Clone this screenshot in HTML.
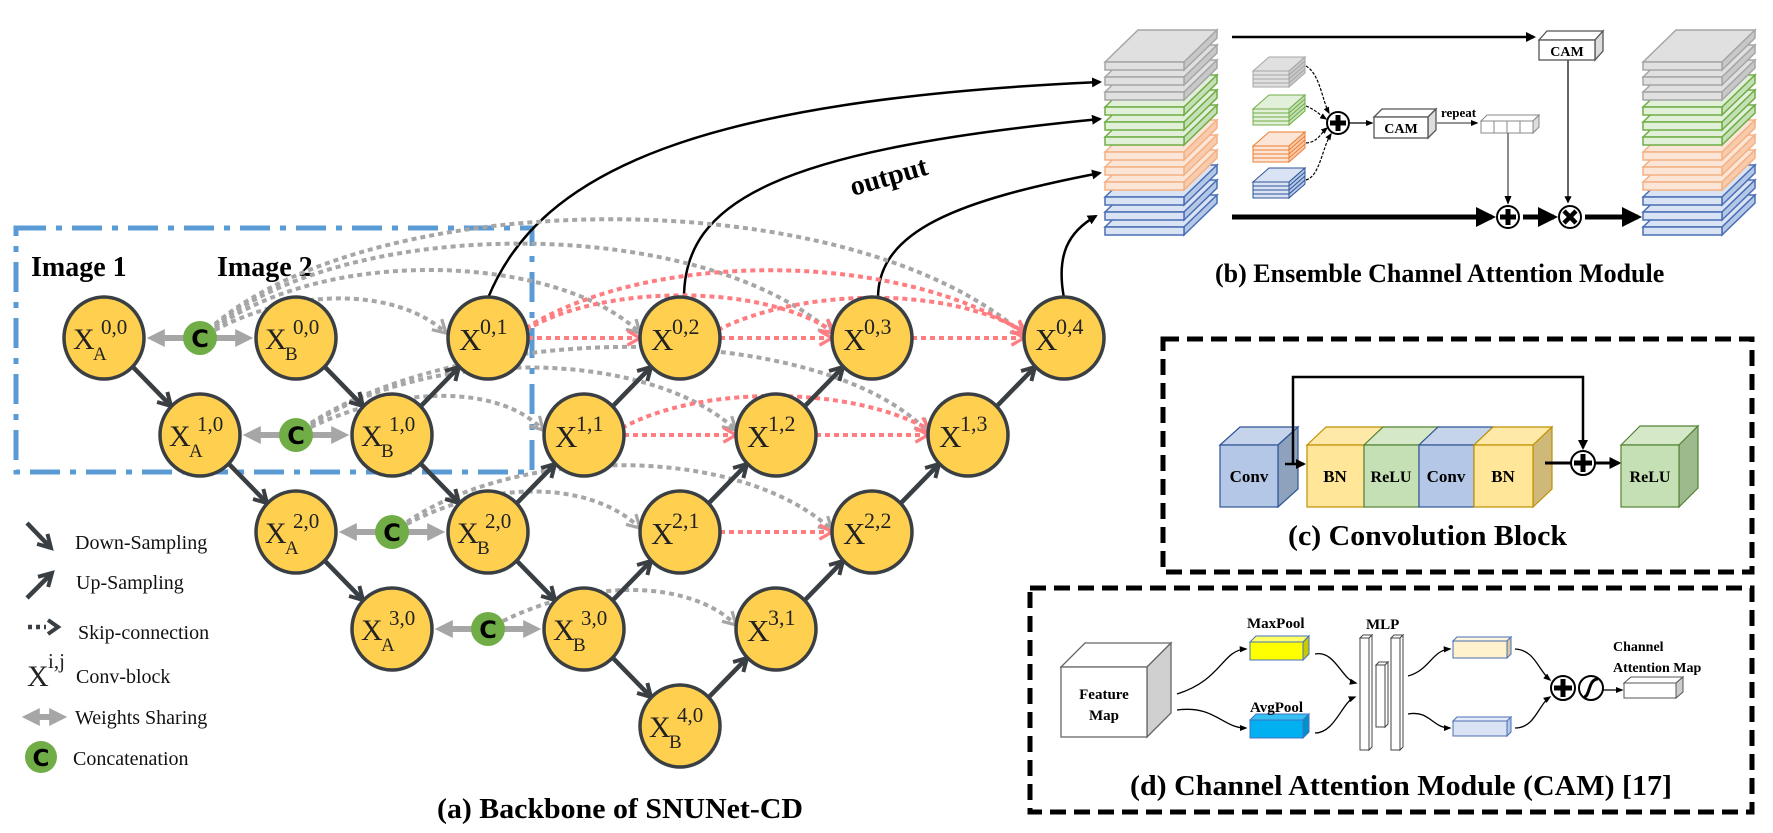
<!DOCTYPE html>
<html><head><meta charset="utf-8"><style>
html,body{margin:0;padding:0;background:#fff;}
svg{display:block;}
.nx{font-family:"Liberation Serif",serif;fill:#222;}
.bd{font-family:"Liberation Serif",serif;font-weight:bold;fill:#000;}
.lg{font-family:"Liberation Serif",serif;font-size:20px;fill:#111;}
</style></head><body>
<svg width="1773" height="833" viewBox="0 0 1773 833" xmlns="http://www.w3.org/2000/svg">
<defs>
<marker id="dk" viewBox="0 0 10 10" refX="8" refY="5" markerWidth="4" markerHeight="4" orient="auto"><path d="M1,1 L8,5 L1,9" fill="none" stroke="#3a3f44" stroke-width="2.2"/></marker>
<marker id="gy" viewBox="0 0 10 10" refX="8" refY="5" markerWidth="4.5" markerHeight="4.5" orient="auto"><path d="M1,1 L8,5 L1,9" fill="none" stroke="#a6a6a6" stroke-width="1.8"/></marker>
<marker id="rd" viewBox="0 0 10 10" refX="8" refY="5" markerWidth="4.5" markerHeight="4.5" orient="auto"><path d="M1,1 L8,5 L1,9" fill="none" stroke="#ff7c80" stroke-width="1.8"/></marker>
<marker id="gt" viewBox="0 0 10 10" refX="6" refY="5" markerWidth="3" markerHeight="3" orient="auto"><path d="M0,0 L10,5 L0,10 z" fill="#a6a6a6"/></marker>
<marker id="bt" viewBox="0 0 10 10" refX="8" refY="5" markerWidth="4" markerHeight="4" orient="auto"><path d="M0,0 L10,5 L0,10 z" fill="#000"/></marker>
<marker id="bs" viewBox="0 0 10 10" refX="8" refY="5" markerWidth="6" markerHeight="6" orient="auto"><path d="M0,1 L10,5 L0,9 z" fill="#000"/></marker>
<g id="Lg"><polygon points="0,0 33,-32 112,-32 79,0" fill="#e0e0e0" stroke="#a6a6a6" stroke-width="1.5"/><polygon points="79,0 112,-32 112,-24 79,8" fill="#c8c8c8" stroke="#a6a6a6" stroke-width="1.5"/><rect x="0" y="0" width="79" height="8" fill="#e0e0e0" stroke="#a6a6a6" stroke-width="1.5"/></g>
<g id="Lgr"><polygon points="0,0 33,-32 112,-32 79,0" fill="#e2f0d9" stroke="#70ad47" stroke-width="1.5"/><polygon points="79,0 112,-32 112,-24 79,8" fill="#c5e0b4" stroke="#70ad47" stroke-width="1.5"/><rect x="0" y="0" width="79" height="8" fill="#e2f0d9" stroke="#70ad47" stroke-width="1.5"/></g>
<g id="Lo"><polygon points="0,0 33,-32 112,-32 79,0" fill="#fbe5d6" stroke="#f4b183" stroke-width="1.5"/><polygon points="79,0 112,-32 112,-24 79,8" fill="#f8cbad" stroke="#f4b183" stroke-width="1.5"/><rect x="0" y="0" width="79" height="8" fill="#fbe5d6" stroke="#f4b183" stroke-width="1.5"/></g>
<g id="Lb"><polygon points="0,0 33,-32 112,-32 79,0" fill="#dae3f3" stroke="#4a6fb5" stroke-width="1.5"/><polygon points="79,0 112,-32 112,-24 79,8" fill="#b4c7e7" stroke="#4a6fb5" stroke-width="1.5"/><rect x="0" y="0" width="79" height="8" fill="#dae3f3" stroke="#4a6fb5" stroke-width="1.5"/></g>
<g id="stk">
<use href="#Lb" x="0" y="165"/><use href="#Lb" x="0" y="150"/><use href="#Lb" x="0" y="135"/>
<use href="#Lo" x="0" y="120"/><use href="#Lo" x="0" y="105"/><use href="#Lo" x="0" y="90"/>
<use href="#Lgr" x="0" y="75"/><use href="#Lgr" x="0" y="60"/><use href="#Lgr" x="0" y="45"/>
<use href="#Lg" x="0" y="30"/><use href="#Lg" x="0" y="15"/><use href="#Lg" x="0" y="0"/>
</g>
</defs>

<rect x="16" y="228" width="516" height="244" fill="none" stroke="#5b9bd5" stroke-width="5" stroke-dasharray="30 10 6 10"/>
<text class="bd" x="31" y="276" font-size="28">Image 1</text>
<text class="bd" x="217" y="276" font-size="28">Image 2</text>

<g fill="none" stroke="#000" stroke-width="2.5" marker-end="url(#bt)">
<path d="M488,298 C540,170 700,100 1100,82"/>
<path d="M684,298 C684,200 780,150 1100,119"/>
<path d="M878,298 C878,230 960,200 1100,173"/>
<path d="M1064,298 C1056,255 1068,232 1096,216"/>
</g>
<text class="bd" font-size="28" transform="translate(853,196) rotate(-16)">output</text>

<g fill="none" stroke="#a6a6a6" stroke-width="4" stroke-dasharray="5 4" marker-end="url(#gy)">
<path d="M215,330 C300,285 400,290 446,333"/>
<path d="M215,328 C330,245 560,255 640,333"/>
<path d="M215,326 C350,215 700,215 832,333"/>
<path d="M215,324 C380,185 850,180 1024,335"/>
<path d="M311,427 C400,385 500,385 543,430"/>
<path d="M311,425 C430,345 650,350 736,430"/>
<path d="M311,423 C470,320 820,320 928,432"/>
<path d="M407,524 C490,480 590,480 640,528"/>
<path d="M407,522 C520,445 740,445 832,530"/>
<path d="M503,621 C590,578 690,580 736,625"/>
</g>
<g fill="none" stroke="#ff7c80" stroke-width="4" stroke-dasharray="5 4" marker-end="url(#rd)">
<path d="M528,338 L640,338"/>
<path d="M720,338 L832,338"/>
<path d="M912,338 L1024,338"/>
<path d="M526,330 C600,285 760,282 834,332"/>
<path d="M526,328 C650,250 900,250 1026,334"/>
<path d="M718,330 C800,288 950,285 1026,333"/>
<path d="M624,435 L736,435"/>
<path d="M816,435 L928,435"/>
<path d="M622,428 C700,385 850,385 930,430"/>
<path d="M720,532 L832,532"/>
</g>

<g stroke="#a6a6a6" stroke-width="6" marker-end="url(#gt)">
<line x1="186" y1="338" x2="154" y2="338"/><line x1="214" y1="338" x2="246" y2="338"/>
<line x1="282" y1="435" x2="250" y2="435"/><line x1="310" y1="435" x2="342" y2="435"/>
<line x1="378" y1="532" x2="346" y2="532"/><line x1="406" y1="532" x2="438" y2="532"/>
<line x1="474" y1="629" x2="442" y2="629"/><line x1="502" y1="629" x2="534" y2="629"/>
</g>

<g stroke="#3a3f44" stroke-width="4.5" fill="none" marker-end="url(#dk)">
<line x1="132" y1="366" x2="171" y2="406"/>
<line x1="228" y1="463" x2="267" y2="503"/>
<line x1="324" y1="560" x2="363" y2="600"/>
<line x1="324" y1="366" x2="363" y2="406"/>
<line x1="420" y1="463" x2="459" y2="503"/>
<line x1="516" y1="560" x2="555" y2="600"/>
<line x1="612" y1="657" x2="651" y2="697"/>
<line x1="420" y1="407" x2="459" y2="367"/>
<line x1="516" y1="504" x2="555" y2="464"/>
<line x1="612" y1="407" x2="651" y2="367"/>
<line x1="612" y1="601" x2="651" y2="561"/>
<line x1="708" y1="504" x2="747" y2="464"/>
<line x1="804" y1="407" x2="843" y2="367"/>
<line x1="708" y1="698" x2="747" y2="658"/>
<line x1="804" y1="601" x2="843" y2="561"/>
<line x1="900" y1="504" x2="939" y2="464"/>
<line x1="996" y1="407" x2="1035" y2="367"/>
</g>

<g fill="#70ad47">
<circle cx="200" cy="338" r="17"/><circle cx="296" cy="435" r="17"/><circle cx="392" cy="532" r="17"/><circle cx="488" cy="629" r="17"/>
</g>
<g font-family="'DejaVu Sans',sans-serif" font-weight="bold" font-size="24" text-anchor="middle" fill="#000">
<text x="200" y="347">C</text><text x="296" y="444">C</text><text x="392" y="541">C</text><text x="488" y="638">C</text>
</g>

<g fill="#ffd04f" stroke="#3a3f44" stroke-width="3.5">
<ellipse cx="104" cy="338" rx="40" ry="41"/><ellipse cx="296" cy="338" rx="40" ry="41"/>
<ellipse cx="200" cy="435" rx="40" ry="41"/><ellipse cx="392" cy="435" rx="40" ry="41"/>
<ellipse cx="296" cy="532" rx="40" ry="41"/><ellipse cx="488" cy="532" rx="40" ry="41"/>
<ellipse cx="392" cy="629" rx="40" ry="41"/><ellipse cx="584" cy="629" rx="40" ry="41"/>
<ellipse cx="680" cy="726" rx="40" ry="41"/>
<ellipse cx="488" cy="338" rx="40" ry="41"/><ellipse cx="680" cy="338" rx="40" ry="41"/><ellipse cx="872" cy="338" rx="40" ry="41"/><ellipse cx="1064" cy="338" rx="40" ry="41"/>
<ellipse cx="584" cy="435" rx="40" ry="41"/><ellipse cx="776" cy="435" rx="40" ry="41"/><ellipse cx="968" cy="435" rx="40" ry="41"/>
<ellipse cx="680" cy="532" rx="40" ry="41"/><ellipse cx="872" cy="532" rx="40" ry="41"/>
<ellipse cx="776" cy="629" rx="40" ry="41"/>
</g>
<g class="nx">
<text x="73" y="349" font-size="30">X</text><text x="93" y="360" font-size="19">A</text><text x="101" y="334" font-size="21">0,0</text>
<text x="265" y="349" font-size="30">X</text><text x="285" y="360" font-size="19">B</text><text x="293" y="334" font-size="21">0,0</text>
<text x="169" y="446" font-size="30">X</text><text x="189" y="457" font-size="19">A</text><text x="197" y="431" font-size="21">1,0</text>
<text x="361" y="446" font-size="30">X</text><text x="381" y="457" font-size="19">B</text><text x="389" y="431" font-size="21">1,0</text>
<text x="265" y="543" font-size="30">X</text><text x="285" y="554" font-size="19">A</text><text x="293" y="528" font-size="21">2,0</text>
<text x="457" y="543" font-size="30">X</text><text x="477" y="554" font-size="19">B</text><text x="485" y="528" font-size="21">2,0</text>
<text x="361" y="640" font-size="30">X</text><text x="381" y="651" font-size="19">A</text><text x="389" y="625" font-size="21">3,0</text>
<text x="553" y="640" font-size="30">X</text><text x="573" y="651" font-size="19">B</text><text x="581" y="625" font-size="21">3,0</text>
<text x="649" y="737" font-size="30">X</text><text x="669" y="748" font-size="19">B</text><text x="677" y="722" font-size="21">4,0</text>
<text x="459" y="350" font-size="31">X</text><text x="480" y="334" font-size="22">0,1</text>
<text x="651" y="350" font-size="31">X</text><text x="672" y="334" font-size="22">0,2</text>
<text x="843" y="350" font-size="31">X</text><text x="864" y="334" font-size="22">0,3</text>
<text x="1035" y="350" font-size="31">X</text><text x="1056" y="334" font-size="22">0,4</text>
<text x="555" y="447" font-size="31">X</text><text x="576" y="431" font-size="22">1,1</text>
<text x="747" y="447" font-size="31">X</text><text x="768" y="431" font-size="22">1,2</text>
<text x="939" y="447" font-size="31">X</text><text x="960" y="431" font-size="22">1,3</text>
<text x="651" y="544" font-size="31">X</text><text x="672" y="528" font-size="22">2,1</text>
<text x="843" y="544" font-size="31">X</text><text x="864" y="528" font-size="22">2,2</text>
<text x="747" y="641" font-size="31">X</text><text x="768" y="625" font-size="22">3,1</text>
</g>

<g stroke="#3a3f44" stroke-width="4.5" fill="none" marker-end="url(#dk)">
<line x1="27" y1="523" x2="51" y2="548"/>
<line x1="27" y1="598" x2="52" y2="573"/>
</g>
<line x1="28" y1="627" x2="46" y2="627" stroke="#3a3f44" stroke-width="4.5" stroke-dasharray="4 4"/>
<path d="M48,620 L58,627 L48,634" fill="none" stroke="#3a3f44" stroke-width="4"/>
<text class="nx" x="27" y="686" font-size="30">X</text><text class="nx" x="48" y="668" font-size="21">i,j</text>
<g stroke="#a6a6a6" stroke-width="6" marker-end="url(#gt)">
<line x1="45" y1="717" x2="29" y2="717"/><line x1="44" y1="717" x2="60" y2="717"/>
</g>
<circle cx="41" cy="757" r="16" fill="#70ad47"/>
<text x="41" y="766" font-family="'DejaVu Sans',sans-serif" font-weight="bold" font-size="23" text-anchor="middle">C</text>
<text class="lg" x="75" y="549">Down-Sampling</text>
<text class="lg" x="76" y="589">Up-Sampling</text>
<text class="lg" x="78" y="639">Skip-connection</text>
<text class="lg" x="76" y="683">Conv-block</text>
<text class="lg" x="75" y="724">Weights Sharing</text>
<text class="lg" x="73" y="765">Concatenation</text>

<text class="bd" x="437" y="818" font-size="28" textLength="366" lengthAdjust="spacingAndGlyphs">(a) Backbone of SNUNet-CD</text>

<!-- ===== (b) ECAM ===== -->
<use href="#stk" x="1105" y="62"/>
<use href="#stk" x="1643" y="62"/>
<line x1="1232" y1="37" x2="1534" y2="37" stroke="#000" stroke-width="2.5" marker-end="url(#bt)"/>
<g stroke="#555" stroke-width="1.3">
<polygon points="1539,40 1547,31 1603,31 1595,40" fill="#fff"/>
<polygon points="1595,40 1603,31 1603,51 1595,60" fill="#ddd"/>
<rect x="1539" y="40" width="56" height="20" fill="#fff"/>
</g>
<text class="bd" x="1567" y="56" font-size="14" text-anchor="middle">CAM</text>
<line x1="1568" y1="60" x2="1568" y2="202" stroke="#555" stroke-width="1.8" marker-end="url(#bt)"/>
<g stroke-width="1">
<g transform="translate(1253,57)" stroke="#a6a6a6"><polygon points="0,14 36,14 52,0 16,0" fill="#e0e0e0"/><polygon points="36,14 52,0 52,16 36,30" fill="#c8c8c8"/><rect x="0" y="14" width="36" height="16" fill="#e0e0e0"/><path d="M0,18H36M0,22H36M0,26H36M36,18L52,4M36,22L52,8M36,26L52,12" fill="none"/></g>
<g transform="translate(1253,95)" stroke="#70ad47"><polygon points="0,14 36,14 52,0 16,0" fill="#e2f0d9"/><polygon points="36,14 52,0 52,16 36,30" fill="#c5e0b4"/><rect x="0" y="14" width="36" height="16" fill="#e2f0d9"/><path d="M0,18H36M0,22H36M0,26H36M36,18L52,4M36,22L52,8M36,26L52,12" fill="none"/></g>
<g transform="translate(1253,132)" stroke="#ed7d31"><polygon points="0,14 36,14 52,0 16,0" fill="#fbe5d6"/><polygon points="36,14 52,0 52,16 36,30" fill="#f8cbad"/><rect x="0" y="14" width="36" height="16" fill="#fbe5d6"/><path d="M0,18H36M0,22H36M0,26H36M36,18L52,4M36,22L52,8M36,26L52,12" fill="none"/></g>
<g transform="translate(1253,168)" stroke="#2f5597"><polygon points="0,14 36,14 52,0 16,0" fill="#dae3f3"/><polygon points="36,14 52,0 52,16 36,30" fill="#b4c7e7"/><rect x="0" y="14" width="36" height="16" fill="#dae3f3"/><path d="M0,18H36M0,22H36M0,26H36M36,18L52,4M36,22L52,8M36,26L52,12" fill="none"/></g>
</g>
<g fill="none" stroke="#000" stroke-width="1.2" stroke-dasharray="3 1.5" marker-end="url(#bs)">
<path d="M1306,66 C1320,74 1322,100 1329,113"/>
<path d="M1306,106 C1316,110 1320,115 1326,119"/>
<path d="M1306,143 C1318,142 1320,134 1327,128"/>
<path d="M1306,180 C1320,176 1322,148 1331,134"/>
</g>
<circle cx="1338" cy="123" r="11" fill="#fff" stroke="#000" stroke-width="2"/>
<path d="M1338,115V131M1330,123H1346" stroke="#000" stroke-width="5"/>
<line x1="1350" y1="123" x2="1372" y2="123" stroke="#000" stroke-width="1.3" marker-end="url(#bs)"/>
<g stroke="#555" stroke-width="1.3">
<polygon points="1374,117 1382,109 1436,109 1428,117" fill="#fff"/>
<polygon points="1428,117 1436,109 1436,130 1428,138" fill="#ddd"/>
<rect x="1374" y="117" width="54" height="21" fill="#fff"/>
</g>
<text class="bd" x="1401" y="133" font-size="14" text-anchor="middle">CAM</text>
<text class="bd" x="1441" y="117" font-size="13">repeat</text>
<line x1="1437" y1="123" x2="1477" y2="123" stroke="#555" stroke-width="1.3" marker-end="url(#bs)"/>
<g stroke="#888" stroke-width="1" fill="#fff">
<polygon points="1481,121 1487,115 1539,115 1533,121"/>
<polygon points="1533,121 1539,115 1539,127 1533,133" fill="#ddd"/>
<rect x="1481" y="121" width="13" height="12"/><rect x="1494" y="121" width="13" height="12"/><rect x="1507" y="121" width="13" height="12"/><rect x="1520" y="121" width="13" height="12"/>
</g>
<line x1="1508" y1="133" x2="1508" y2="203" stroke="#666" stroke-width="1.5" marker-end="url(#bs)"/>
<line x1="1232" y1="217" x2="1492" y2="217" stroke="#000" stroke-width="5" marker-end="url(#bt)"/>
<circle cx="1508" cy="217" r="11" fill="#fff" stroke="#000" stroke-width="2"/>
<path d="M1508,209V225M1500,217H1516" stroke="#000" stroke-width="5"/>
<line x1="1523" y1="217" x2="1554" y2="217" stroke="#000" stroke-width="5" marker-end="url(#bt)"/>
<circle cx="1570" cy="217" r="11" fill="#fff" stroke="#000" stroke-width="2"/>
<path d="M1564,211L1576,223M1576,211L1564,223" stroke="#000" stroke-width="4.5"/>
<line x1="1585" y1="217" x2="1638" y2="217" stroke="#000" stroke-width="5" marker-end="url(#bt)"/>
<text class="bd" x="1215" y="282" font-size="26">(b) Ensemble Channel Attention Module</text>

<!-- ===== (c) Convolution Block ===== -->
<rect x="1163" y="339" width="589" height="233" fill="none" stroke="#000" stroke-width="5" stroke-dasharray="16 8"/>
<polygon points="1220,445 1240,427 1298,427 1278,445" fill="#c5d3eb" stroke="#2f5597" stroke-width="1.2"/>
<polygon points="1278,445 1298,427 1298,489 1278,507" fill="#8ea2bd" stroke="#2f5597" stroke-width="1.2"/>
<rect x="1220" y="445" width="58" height="62" fill="#b4c7e7" stroke="#2f5597" stroke-width="1.2"/>
<polygon points="1307,445 1326,427 1383,427 1364,445" fill="#ffe9a8" stroke="#bf9000" stroke-width="1.2"/>
<polygon points="1364,445 1383,427 1438,427 1419,445" fill="#d5e8c8" stroke="#548235" stroke-width="1.2"/>
<polygon points="1419,445 1438,427 1493,427 1474,445" fill="#c5d3eb" stroke="#2f5597" stroke-width="1.2"/>
<polygon points="1474,445 1493,427 1552,427 1533,445" fill="#ffe9a8" stroke="#bf9000" stroke-width="1.2"/>
<polygon points="1533,445 1552,427 1552,489 1533,507" fill="#cfb97a" stroke="#bf9000" stroke-width="1.2"/>
<rect x="1307" y="445" width="57" height="62" fill="#ffe699" stroke="#bf9000" stroke-width="1.2"/>
<rect x="1364" y="445" width="55" height="62" fill="#c5e0b4" stroke="#548235" stroke-width="1.2"/>
<rect x="1419" y="445" width="55" height="62" fill="#b4c7e7" stroke="#2f5597" stroke-width="1.2"/>
<rect x="1474" y="445" width="59" height="62" fill="#ffe699" stroke="#bf9000" stroke-width="1.2"/>
<g class="bd" font-size="17" text-anchor="middle">
<text x="1249" y="482">Conv</text><text x="1335" y="482">BN</text><text x="1391" y="482" font-size="16">ReLU</text><text x="1446" y="482">Conv</text><text x="1503" y="482">BN</text>
</g>
<path d="M1293,464 V377 H1583 V448" fill="none" stroke="#000" stroke-width="2.5" marker-end="url(#bt)"/>
<line x1="1285" y1="464" x2="1304" y2="464" stroke="#000" stroke-width="2.5" marker-end="url(#bt)"/>
<line x1="1545" y1="463" x2="1572" y2="463" stroke="#000" stroke-width="3"/>
<circle cx="1583" cy="463" r="12" fill="#fff" stroke="#000" stroke-width="2"/>
<path d="M1583,454V472M1574,463H1592" stroke="#000" stroke-width="5"/>
<line x1="1595" y1="463" x2="1619" y2="463" stroke="#000" stroke-width="3" marker-end="url(#bt)"/>
<polygon points="1621,445 1640,426 1698,426 1679,445" fill="#d5e8c8" stroke="#548235" stroke-width="1.2"/>
<polygon points="1679,445 1698,426 1698,488 1679,507" fill="#9dba8c" stroke="#548235" stroke-width="1.2"/>
<rect x="1621" y="445" width="58" height="62" fill="#c5e0b4" stroke="#548235" stroke-width="1.2"/>
<text class="bd" x="1650" y="482" font-size="16" text-anchor="middle">ReLU</text>
<text class="bd" x="1288" y="545" font-size="28" textLength="279" lengthAdjust="spacingAndGlyphs">(c) Convolution Block</text>

<!-- ===== (d) CAM ===== -->
<rect x="1030" y="588" width="722" height="224" fill="none" stroke="#000" stroke-width="5" stroke-dasharray="16 8"/>
<g stroke="#666" stroke-width="1.3">
<polygon points="1061,667 1085,643 1171,643 1147,667" fill="#fff"/>
<polygon points="1147,667 1171,643 1171,713 1147,737" fill="#d0d0d0"/>
<rect x="1061" y="667" width="86" height="70" fill="#fff"/>
</g>
<text class="bd" x="1104" y="699" font-size="15" text-anchor="middle">Feature</text>
<text class="bd" x="1104" y="720" font-size="15" text-anchor="middle">Map</text>
<g stroke="#4472c4" stroke-width="1">
<polygon points="1250,642 1256,636 1309,636 1303,642" fill="#ffff66"/>
<polygon points="1303,642 1309,636 1309,654 1303,660" fill="#c9c900"/>
<rect x="1250" y="642" width="53" height="18" fill="#ffff00"/>
<polygon points="1250,720 1256,714 1309,714 1303,720" fill="#33c0f3"/>
<polygon points="1303,720 1309,714 1309,732 1303,738" fill="#0090c8"/>
<rect x="1250" y="720" width="53" height="18" fill="#00b0f0"/>
</g>
<text class="bd" x="1247" y="628" font-size="15">MaxPool</text>
<text class="bd" x="1250" y="712" font-size="15">AvgPool</text>
<text class="bd" x="1366" y="629" font-size="15">MLP</text>
<g stroke="#444" stroke-width="1" fill="#fff">
<rect x="1360" y="638" width="9" height="112"/><polygon points="1360,638 1363,635 1372,635 1369,638"/><polygon points="1369,638 1372,635 1372,747 1369,750"/>
<rect x="1376" y="665" width="9" height="62"/><polygon points="1376,665 1379,662 1388,662 1385,665"/><polygon points="1385,665 1388,662 1388,724 1385,727"/>
<rect x="1391" y="638" width="9" height="112"/><polygon points="1391,638 1394,635 1403,635 1400,638"/><polygon points="1400,638 1403,635 1403,747 1400,750"/>
</g>
<g stroke="#4a6fb5" stroke-width="1">
<polygon points="1453,641 1457,637 1511,637 1507,641" fill="#fff6dd"/>
<polygon points="1507,641 1511,637 1511,654 1507,658" fill="#d8cc9e"/>
<rect x="1453" y="641" width="54" height="17" fill="#fff2cc"/>
<polygon points="1453,721 1457,717 1511,717 1507,721" fill="#e6ecf7"/>
<polygon points="1507,721 1511,717 1511,732 1507,736" fill="#b4c7e7"/>
<rect x="1453" y="721" width="54" height="15" fill="#dae3f3"/>
</g>
<g fill="none" stroke="#000" stroke-width="1.3" marker-end="url(#bs)">
<path d="M1177,694 C1222,680 1222,650 1246,649"/>
<path d="M1177,710 C1215,705 1222,728 1246,728"/>
<path d="M1315,654 C1335,650 1342,680 1356,683"/>
<path d="M1315,733 C1335,733 1342,702 1355,697"/>
<path d="M1408,676 C1430,670 1432,650 1450,649"/>
<path d="M1408,714 C1430,710 1432,728 1450,728"/>
<path d="M1515,649 C1535,650 1538,670 1550,680"/>
<path d="M1515,728 C1535,728 1538,705 1550,697"/>
<line x1="1603" y1="690" x2="1622" y2="690"/>
</g>
<circle cx="1563" cy="688" r="12" fill="#fff" stroke="#000" stroke-width="2"/>
<path d="M1563,679V697M1554,688H1572" stroke="#000" stroke-width="5"/>
<circle cx="1591" cy="688" r="12" fill="#fff" stroke="#000" stroke-width="2"/>
<path d="M1584,697 C1590,697 1588,679 1598,679" fill="none" stroke="#000" stroke-width="3"/>
<g stroke="#555" stroke-width="1">
<polygon points="1624,683 1631,677 1683,677 1676,683" fill="#fff"/>
<polygon points="1676,683 1683,677 1683,692 1676,698" fill="#ccc"/>
<rect x="1624" y="683" width="52" height="15" fill="#fff"/>
</g>
<text class="bd" x="1613" y="651" font-size="14">Channel</text>
<text class="bd" x="1613" y="672" font-size="14">Attention Map</text>
<text class="bd" x="1130" y="795" font-size="28" textLength="542" lengthAdjust="spacingAndGlyphs">(d) Channel Attention Module (CAM) [17]</text>
</svg>
</body></html>
